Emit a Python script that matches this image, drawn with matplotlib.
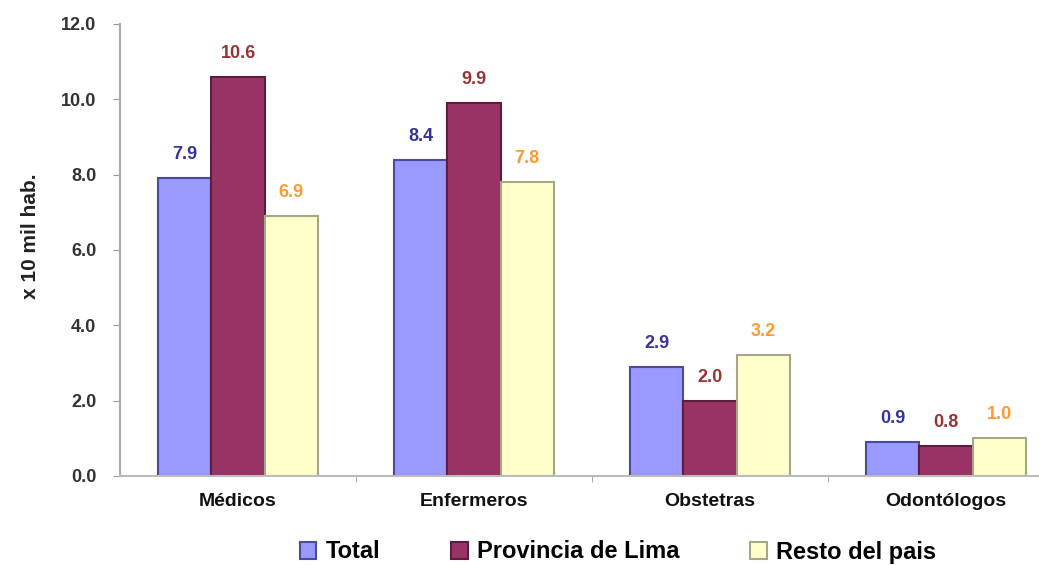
import numpy as np
import matplotlib.pyplot as plt

# data
categorias = ["Médicos", "Enfermeros", "Obstetras", "Odontólogos"]
total = [7.9, 8.4, 2.9, 0.9]
lima = [10.6, 9.9, 2.0, 0.8]
resto = [6.9, 7.8, 3.2, 1.0]
series = ["Total", "Provincia de Lima", "Resto del pais"]

colores = ["#9999FF", "#993366", "#FFFFCC"]
bordes = ["#4B4B99", "#5A1E3C", "#A5A58A"]
col_text = ["#333399", "#993333", "#FF9933"]

plt.rcParams['font.family'] = ['Liberation Sans', 'DejaVu Sans']
plt.rcParams['font.weight'] = 'bold'

fig = plt.figure(figsize=(10.39, 5.65), dpi=100)
ax = fig.add_axes([120/1039, 89/565, 944/1039, 452/565])

x = np.arange(len(categorias))
w = 0.225
for i, vals in enumerate([total, lima, resto]):
    pos = x + (i - 1) * w
    ax.bar(pos, vals, w, color=colores[i], edgecolor=bordes[i], linewidth=1.5,
           label=series[i])
    for p, v in zip(pos, vals):
        ax.text(p, v + 0.4, f"{v:.1f}", ha='center', va='bottom',
                color=col_text[i], fontsize=13, fontweight='bold')

ax.set_xlim(-0.5, 3.5)
ax.set_ylim(0, 12)
ax.set_yticks(np.arange(0, 12.1, 2))
ax.set_yticklabels([f"{t:.1f}" for t in np.arange(0, 12.1, 2)],
                   fontsize=13, color='#333333')
ax.set_xticks(x)
ax.set_xticklabels(categorias, fontsize=14, color='#111111')
ax.set_xticks([0.5, 1.5, 2.5], minor=True)
ax.tick_params(axis='x', which='major', length=0, pad=12)
ax.tick_params(axis='x', which='minor', length=4, color='#999999')
ax.tick_params(axis='y', length=5, color='#999999', pad=12)

for s in ['top', 'right']:
    ax.spines[s].set_visible(False)
ax.spines['left'].set_color('#aaaaaa')
ax.spines['left'].set_linewidth(1.5)
ax.spines['bottom'].set_color('#bbbbbb')
ax.spines['bottom'].set_linewidth(1.5)

ax.set_ylabel("x 10 mil hab.", fontsize=15, fontweight='bold', color='#222222')
ax.yaxis.set_label_coords(-0.085, 0.53)

fig.legend(loc='center', bbox_to_anchor=(618/1039, 1 - 552/565), ncol=3,
           frameon=False, fontsize=17, handlelength=0.7, handleheight=0.7,
           handletextpad=0.4, columnspacing=3.0)

fig.savefig("out.png", dpi=100)
